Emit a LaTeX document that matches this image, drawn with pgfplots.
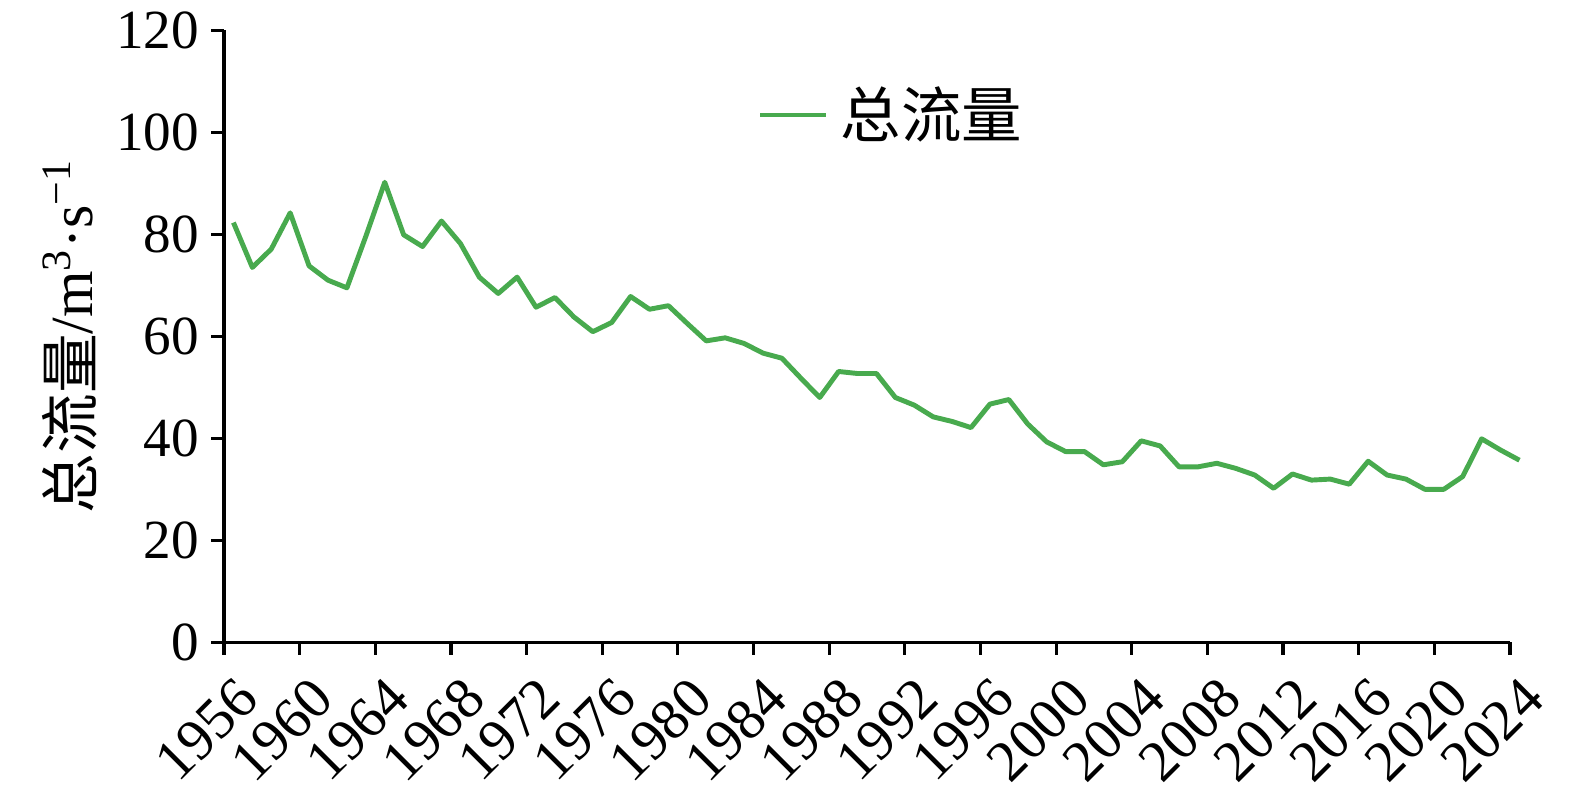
\documentclass[border=0pt]{standalone}
\usepackage{fontspec}
\setmainfont{Liberation Serif}
\newfontfamily\cjk{Noto Sans CJK SC}
\usepackage{pgfplots}
\pgfplotsset{compat=1.18}
\definecolor{lc}{RGB}{72,170,78}
\pgfplotstableread{
x y
1956.5 82.3
1957.5 73.5
1958.5 77.1
1959.5 84.2
1960.5 73.8
1961.5 71.0
1962.5 69.5
1963.5 79.6
1964.5 90.2
1965.5 79.9
1966.5 77.6
1967.5 82.6
1968.5 78.2
1969.5 71.6
1970.5 68.4
1971.5 71.6
1972.5 65.7
1973.5 67.6
1974.5 63.8
1975.5 60.9
1976.5 62.7
1977.5 67.8
1978.5 65.3
1979.5 66.0
1980.5 62.5
1981.5 59.1
1982.5 59.7
1983.5 58.6
1984.5 56.7
1985.5 55.7
1986.5 51.8
1987.5 48.0
1988.5 53.1
1989.5 52.7
1990.5 52.7
1991.5 48.0
1992.5 46.5
1993.5 44.2
1994.5 43.3
1995.5 42.1
1996.5 46.7
1997.5 47.6
1998.5 42.8
1999.5 39.3
2000.5 37.4
2001.5 37.4
2002.5 34.8
2003.5 35.4
2004.5 39.5
2005.5 38.5
2006.5 34.4
2007.5 34.4
2008.5 35.1
2009.5 34.1
2010.5 32.8
2011.5 30.2
2012.5 33.0
2013.5 31.8
2014.5 32.0
2015.5 31.0
2016.5 35.5
2017.5 32.8
2018.5 32.0
2019.5 30.0
2020.5 30.0
2021.5 32.5
2022.5 39.9
2023.5 37.7
2024.5 35.7
}\flowdata
\begin{document}
\begin{tikzpicture}
\begin{axis}[
  width=12.86cm, height=6.12cm, scale only axis,
  xmin=1956, xmax=2024, ymin=0, ymax=120,
  xtick={1956,1960,...,2024}, ytick={0,20,...,120},
  axis x line*=bottom, axis y line*=left,
  axis line style={line width=0.9pt, black},
  every tick/.style={line width=0.9pt, black},
  tick align=outside, major tick length=0.125cm,
  clip=false,
  /pgf/number format/assume math mode=true,
  yticklabel style={font=\fontsize{15.7}{18}\selectfont, anchor=east},
  xticklabel style={font=\fontsize{16.5}{18}\selectfont, /pgf/number format/1000 sep={}, xshift=0.32cm, yshift=-0.25cm, rotate=45, anchor=east},
  ylabel={{\cjk 总流量}/m\textsuperscript{3}·s\textsuperscript{−1}},
  ylabel style={font=\fontsize{17}{18}\selectfont, at={(axis description cs:-0.1198,0.5)}, anchor=center},
  legend style={draw=none, fill=none, inner sep=0pt, at={(axis description cs:0.4145,0.8616)}, anchor=west, font=\fontsize{17.2}{18}\selectfont\cjk},
  legend image code/.code={\draw[#1] (0cm,0cm) -- (0.66cm,0cm);},
  legend cell align=left,
]
\addplot[lc, line width=1.4pt, line join=round] table[x=x,y=y]{\flowdata};
\addlegendentry{\hspace{0.05cm}总流量}
\end{axis}
\pgfresetboundingbox
\path[use as bounding box] (-2.24cm,-1.607cm) rectangle (13.51cm,6.423cm);
\end{tikzpicture}
\end{document}
